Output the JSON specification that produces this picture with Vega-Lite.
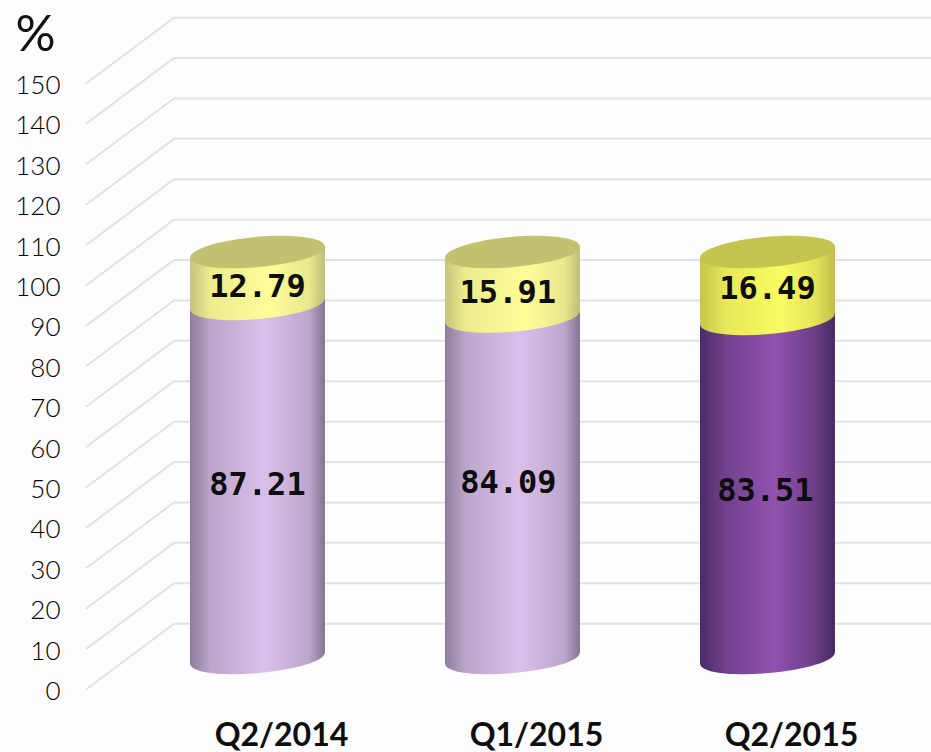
{
"$schema":"https://vega.github.io/schema/vega-lite/v6.json",
"width":931,"height":752,"padding":0,"autosize":{"type":"none"},
"background":"#fdfcfe",
"view":{"stroke":null},
"config":{"axis":{"grid":false,"domain":false,"ticks":false,"labelBound":false,"labelOverlap":false,"labelFlush":false}},
"datasets":{
"grid":[
{"tick":0,"depth":0,"level":0},{"tick":0,"depth":1,"level":16.3},{"tick":0,"depth":9.6,"level":16.3},
{"tick":10,"depth":0,"level":10},{"tick":10,"depth":1,"level":26.3},{"tick":10,"depth":9.6,"level":26.3},
{"tick":20,"depth":0,"level":20},{"tick":20,"depth":1,"level":36.3},{"tick":20,"depth":9.6,"level":36.3},
{"tick":30,"depth":0,"level":30},{"tick":30,"depth":1,"level":46.3},{"tick":30,"depth":9.6,"level":46.3},
{"tick":40,"depth":0,"level":40},{"tick":40,"depth":1,"level":56.3},{"tick":40,"depth":9.6,"level":56.3},
{"tick":50,"depth":0,"level":50},{"tick":50,"depth":1,"level":66.3},{"tick":50,"depth":9.6,"level":66.3},
{"tick":60,"depth":0,"level":60},{"tick":60,"depth":1,"level":76.3},{"tick":60,"depth":9.6,"level":76.3},
{"tick":70,"depth":0,"level":70},{"tick":70,"depth":1,"level":86.3},{"tick":70,"depth":9.6,"level":86.3},
{"tick":80,"depth":0,"level":80},{"tick":80,"depth":1,"level":96.3},{"tick":80,"depth":9.6,"level":96.3},
{"tick":90,"depth":0,"level":90},{"tick":90,"depth":1,"level":106.3},{"tick":90,"depth":9.6,"level":106.3},
{"tick":100,"depth":0,"level":100},{"tick":100,"depth":1,"level":116.3},{"tick":100,"depth":9.6,"level":116.3},
{"tick":110,"depth":0,"level":110},{"tick":110,"depth":1,"level":126.3},{"tick":110,"depth":9.6,"level":126.3},
{"tick":120,"depth":0,"level":120},{"tick":120,"depth":1,"level":136.3},{"tick":120,"depth":9.6,"level":136.3},
{"tick":130,"depth":0,"level":130},{"tick":130,"depth":1,"level":146.3},{"tick":130,"depth":9.6,"level":146.3},
{"tick":140,"depth":0,"level":140},{"tick":140,"depth":1,"level":156.3},{"tick":140,"depth":9.6,"level":156.3},
{"tick":150,"depth":0,"level":150},{"tick":150,"depth":1,"level":166.3},{"tick":150,"depth":9.6,"level":166.3}
],
"edges":[
{"quarter":"Q2/2014","look":"lilac","edge":-1,"low":-1.46,"high":85.75},{"quarter":"Q2/2014","look":"lilac","edge":1,"low":1.46,"high":88.67},
{"quarter":"Q1/2015","look":"lilac","edge":-1,"low":-1.46,"high":82.63},{"quarter":"Q1/2015","look":"lilac","edge":1,"low":1.46,"high":85.55},
{"quarter":"Q2/2015","look":"violet","edge":-1,"low":-1.46,"high":82.05},{"quarter":"Q2/2015","look":"violet","edge":1,"low":1.46,"high":84.97},
{"quarter":"Q2/2014","look":"pale","edge":-1,"low":85.75,"high":98.54},{"quarter":"Q2/2014","look":"pale","edge":1,"low":88.67,"high":101.46},
{"quarter":"Q1/2015","look":"pale","edge":-1,"low":82.63,"high":98.54},{"quarter":"Q1/2015","look":"pale","edge":1,"low":85.55,"high":101.46},
{"quarter":"Q2/2015","look":"bright","edge":-1,"low":82.05,"high":98.54},{"quarter":"Q2/2015","look":"bright","edge":1,"low":84.97,"high":101.46}
],
"values":[
{"quarter":"Q2/2014","look":"lilac","low":0,"high":87.21,"value":"87.21","labelAt":42.6,"nudge":0},
{"quarter":"Q1/2015","look":"lilac","low":0,"high":84.09,"value":"84.09","labelAt":43.1,"nudge":-0.06},
{"quarter":"Q2/2015","look":"violet","low":0,"high":83.51,"value":"83.51","labelAt":41.1,"nudge":-0.03},
{"quarter":"Q2/2014","look":"pale","low":87.21,"high":100,"value":"12.79","labelAt":91.4,"nudge":0},
{"quarter":"Q1/2015","look":"pale","low":84.09,"high":100,"value":"15.91","labelAt":89.9,"nudge":-0.07},
{"quarter":"Q2/2015","look":"bright","low":83.51,"high":100,"value":"16.49","labelAt":90.9,"nudge":0}
]
},
"resolve":{"scale":{"x":"independent","y":"independent"},"axis":{"x":"independent","y":"independent"}},
"layer":[
{
"data":{"name":"grid"},
"mark":{"type":"line","color":"#e2e2e2","strokeWidth":2,"interpolate":"linear"},
"encoding":{
"x":{"field":"depth","type":"quantitative","scale":{"domain":[-0.977,9.6],"nice":false,"zero":false},"axis":null},
"y":{"field":"level","type":"quantitative","scale":{"domain":[-15.47,170.67],"nice":false,"zero":false},
"axis":{"orient":"left","values":[0,10,20,30,40,50,60,70,80,90,100,110,120,130,140,150],"title":"%","titleFont":"Lato","titleFontSize":50,"titleFontWeight":"normal","titleColor":"#111111","titleAngle":0,"titleX":35,"titleY":50,"titleAlign":"center","titleBaseline":"alphabetic","labelAlign":"right","labelBaseline":"middle","labelOffset":2,"labelPadding":-60,"labelFont":"Lato","labelFontSize":26,"labelFontWeight":300,"labelColor":"#000000"}},
"detail":{"field":"tick","type":"quantitative"}
}
},
{
"encoding":{
"x":{"field":"quarter","type":"nominal","sort":["Q2/2014","Q1/2015","Q2/2015"],"scale":{"domain":["Q2/2014","Q1/2015","Q2/2015"],"paddingInner":0,"paddingOuter":0.3255,"align":0.783},
"axis":{"orient":"bottom","title":null,"labelAngle":0,"labelOffset":24,"labelPadding":-17,"labelBaseline":"middle","labelAlign":"center","labelFont":"Lato","labelFontSize":32,"labelFontWeight":"bold","labelColor":"#0d0d0d"}},
"xOffset":{"field":"edge","type":"quantitative","scale":{"domain":[-1,1],"range":[60,195]}},
"y":{"field":"low","type":"quantitative","scale":{"domain":[-23.15,162.07],"nice":false,"zero":false},"axis":null}
},
"layer":[
{"data":{"name":"values"},"transform":[{"filter":"datum.look==='lilac'"}],
"mark":{"type":"point","filled":true,"opacity":1,"strokeWidth":0,"size":18225,"shape":"M-0.996,0.087A1,0.22,-5,1,1,0.996,-0.087A1,0.22,-5,1,1,-0.996,0.087Z","fill":{"gradient":"linear","x1":0,"x2":1,"y1":0,"y2":0,"stops":[{"offset":0,"color":"#8d7d9d"},{"offset":0.15,"color":"#bba5ca"},{"offset":0.55,"color":"#dabfea"},{"offset":0.88,"color":"#bda7cd"},{"offset":1,"color":"#85758f"}]}},
"encoding":{"xOffset":{"value":127.5}}},
{"data":{"name":"values"},"transform":[{"filter":"datum.look==='violet'"}],
"mark":{"type":"point","filled":true,"opacity":1,"strokeWidth":0,"size":18225,"shape":"M-0.996,0.087A1,0.22,-5,1,1,0.996,-0.087A1,0.22,-5,1,1,-0.996,0.087Z","fill":{"gradient":"linear","x1":0,"x2":1,"y1":0,"y2":0,"stops":[{"offset":0,"color":"#4a2c66"},{"offset":0.2,"color":"#73418f"},{"offset":0.55,"color":"#9153ae"},{"offset":0.85,"color":"#6d3d88"},{"offset":1,"color":"#452a5e"}]}},
"encoding":{"xOffset":{"value":127.5}}},
{"data":{"name":"edges"},"transform":[{"filter":"datum.look==='lilac'"}],
"mark":{"type":"area","opacity":1,"fill":{"gradient":"linear","x1":0,"x2":1,"y1":0,"y2":0,"stops":[{"offset":0,"color":"#8d7d9d"},{"offset":0.15,"color":"#bba5ca"},{"offset":0.55,"color":"#dabfea"},{"offset":0.88,"color":"#bda7cd"},{"offset":1,"color":"#85758f"}]}},
"encoding":{"y2":{"field":"high"},"detail":{"field":"quarter","type":"nominal"}}},
{"data":{"name":"edges"},"transform":[{"filter":"datum.look==='violet'"}],
"mark":{"type":"area","opacity":1,"fill":{"gradient":"linear","x1":0,"x2":1,"y1":0,"y2":0,"stops":[{"offset":0,"color":"#4a2c66"},{"offset":0.2,"color":"#73418f"},{"offset":0.55,"color":"#9153ae"},{"offset":0.85,"color":"#6d3d88"},{"offset":1,"color":"#452a5e"}]}},
"encoding":{"y2":{"field":"high"},"detail":{"field":"quarter","type":"nominal"}}},
{"data":{"name":"edges"},"transform":[{"filter":"datum.look==='pale'"}],
"mark":{"type":"area","opacity":1,"fill":{"gradient":"linear","x1":0,"x2":1,"y1":0,"y2":0,"stops":[{"offset":0,"color":"#c4c47e"},{"offset":0.15,"color":"#ecec8e"},{"offset":0.6,"color":"#fdfd98"},{"offset":0.88,"color":"#e8e88c"},{"offset":1,"color":"#bebe78"}]}},
"encoding":{"y2":{"field":"high"},"detail":{"field":"quarter","type":"nominal"}}},
{"data":{"name":"edges"},"transform":[{"filter":"datum.look==='bright'"}],
"mark":{"type":"area","opacity":1,"fill":{"gradient":"linear","x1":0,"x2":1,"y1":0,"y2":0,"stops":[{"offset":0,"color":"#c6c64c"},{"offset":0.2,"color":"#e8e85a"},{"offset":0.6,"color":"#fafa62"},{"offset":0.85,"color":"#e4e458"},{"offset":1,"color":"#bfbf48"}]}},
"encoding":{"y2":{"field":"high"},"detail":{"field":"quarter","type":"nominal"}}},
{"data":{"name":"values"},"transform":[{"filter":"datum.look==='pale'"}],
"mark":{"type":"point","filled":true,"opacity":1,"strokeWidth":0,"size":18225,"shape":"M-0.996,0.087A1,0.22,-5,1,1,0.996,-0.087A1,0.22,-5,1,1,-0.996,0.087Z","fill":{"gradient":"linear","x1":0,"x2":1,"y1":0,"y2":0,"stops":[{"offset":0,"color":"#c4c47e"},{"offset":0.15,"color":"#ecec8e"},{"offset":0.6,"color":"#fdfd98"},{"offset":0.88,"color":"#e8e88c"},{"offset":1,"color":"#bebe78"}]}},
"encoding":{"xOffset":{"value":127.5}}},
{"data":{"name":"values"},"transform":[{"filter":"datum.look==='bright'"}],
"mark":{"type":"point","filled":true,"opacity":1,"strokeWidth":0,"size":18225,"shape":"M-0.996,0.087A1,0.22,-5,1,1,0.996,-0.087A1,0.22,-5,1,1,-0.996,0.087Z","fill":{"gradient":"linear","x1":0,"x2":1,"y1":0,"y2":0,"stops":[{"offset":0,"color":"#c6c64c"},{"offset":0.2,"color":"#e8e85a"},{"offset":0.6,"color":"#fafa62"},{"offset":0.85,"color":"#e4e458"},{"offset":1,"color":"#bfbf48"}]}},
"encoding":{"xOffset":{"value":127.5}}},
{"data":{"name":"values"},"transform":[{"filter":"datum.look==='pale'"}],
"mark":{"type":"point","filled":true,"opacity":1,"strokeWidth":0,"size":18225,"fill":"#c2c16f","shape":"M-0.996,0.087A1,0.22,-5,1,1,0.996,-0.087A1,0.22,-5,1,1,-0.996,0.087Z"},
"encoding":{"y":{"field":"high","type":"quantitative","axis":null},"xOffset":{"value":127.5}}},
{"data":{"name":"values"},"transform":[{"filter":"datum.look==='bright'"}],
"mark":{"type":"point","filled":true,"opacity":1,"strokeWidth":0,"size":18225,"fill":"#c5c44f","shape":"M-0.996,0.087A1,0.22,-5,1,1,0.996,-0.087A1,0.22,-5,1,1,-0.996,0.087Z"},
"encoding":{"y":{"field":"high","type":"quantitative","axis":null},"xOffset":{"value":127.5}}},
{"data":{"name":"values"},
"mark":{"type":"text","font":"DejaVu Sans Mono","fontWeight":"bold","fontSize":32,"color":"#0d0d0d","baseline":"middle","align":"center"},
"encoding":{"y":{"field":"labelAt","type":"quantitative","axis":null},"xOffset":{"field":"nudge","type":"quantitative"},"text":{"field":"value"}}}
]
}
]
}
